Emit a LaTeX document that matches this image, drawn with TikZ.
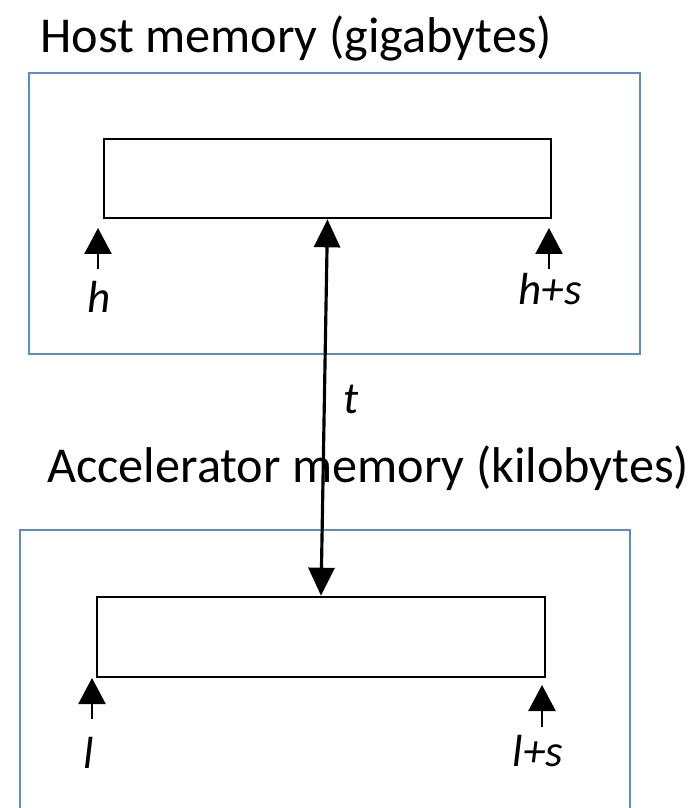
\documentclass[tikz,border=0pt]{standalone}
\usepackage{fontspec}
\setmainfont{Carlito}
\usetikzlibrary{arrows.meta,positioning}
\definecolor{MemEdge}{HTML}{5B8DCB}
\definecolor{BufInk}{HTML}{000000}
\tikzset{
  every node/.style={font=\fontsize{28.6}{34}\selectfont, inner sep=0pt},
  membox/.style={draw=MemEdge, line width=1.35pt},
  bufbox/.style={draw=BufInk, line width=1.5pt},
  addr/.style={font=\fontsize{25.6}{30}\selectfont\itshape},
  ptr/.style={-{Triangle[length=0.52cm,width=0.54cm]}, draw=BufInk, line width=1.4pt},
  xfer/.style={{Triangle[length=0.56cm,width=0.52cm]}-{Triangle[length=0.56cm,width=0.52cm]}, draw=BufInk, line width=1.8pt},
}

\begin{document}
\begin{tikzpicture}[x=0.02cm,y=-0.02cm]
  \clip (0,0) rectangle (695,808);
  % Host side: pixel coordinates, y grows downwards
  \node[anchor=base west] (hosttitle) at (40,52) {Host memory (gigabytes)};
  \node[membox, minimum width=12.22cm, minimum height=5.62cm] (hostmem) at (334.5,213.5) {};
  \node[bufbox, minimum width=8.94cm, minimum height=1.58cm] (hostbuf) at (327.5,178.5) {};
  \node[addr, anchor=base] (hlbl) at (99,312) {h};
  \node[addr, anchor=base] (hslbl) at (550,304) {h+s};
  \coordinate (hat) at (98,228);
  \coordinate (htail) at (98,269);
  \coordinate (hsat) at (549,228);
  \coordinate (hstail) at (549,269);
  \draw[ptr] (htail) -- (hat);
  \draw[ptr] (hstail) -- (hsat);
  % Accelerator side
  \node[anchor=base west] (acctitle) at (47,482) {Accelerator memory (kilobytes)};
  \node[membox, minimum width=12.2cm, minimum height=6.6cm] (accmem) at (325,695) {};
  \node[bufbox, minimum width=8.96cm, minimum height=1.6cm] (accbuf) at (321,637) {};
  \node[addr, anchor=base] (llbl) at (89,768) {l};
  \node[addr, anchor=base] (lslbl) at (538,766) {l+s};
  \coordinate (lat) at (92,678);
  \coordinate (ltail) at (92,719);
  \coordinate (lsat) at (542,685);
  \coordinate (lstail) at (542,727);
  \draw[ptr] (ltail) -- (lat);
  \draw[ptr] (lstail) -- (lsat);
  % Transfer between the two buffers
  \draw[xfer] (hostbuf.south) -- (accbuf.north);
  \node[addr, anchor=base] (tlbl) at (351,413) {t};
\end{tikzpicture}
\end{document}
